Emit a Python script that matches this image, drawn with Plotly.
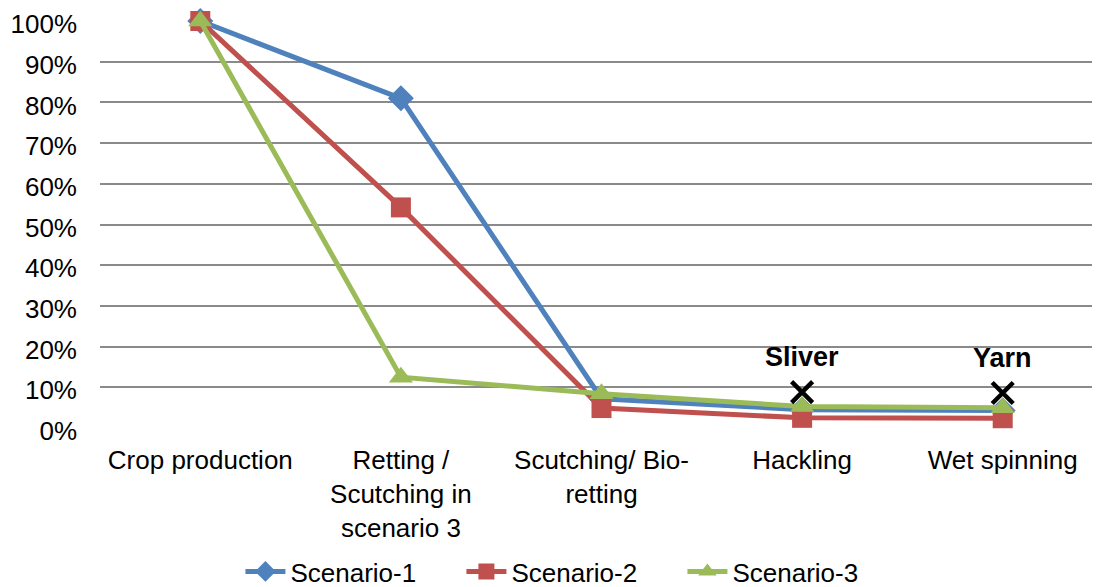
import plotly.graph_objects as go

stages = ["Crop production", "Retting /<br>Scutching in<br>scenario 3", "Scutching/ Bio-<br>retting",
          "Hackling", "Wet spinning"]
scenario_1 = [1.00, 0.81, 0.072, 0.045, 0.043]
scenario_2 = [1.00, 0.542, 0.049, 0.025, 0.024]
scenario_3 = [1.00, 0.125, 0.084, 0.053, 0.050]

product_stages = ["Hackling", "Wet spinning"]
product_values = [0.088, 0.086]
product_names = ["Sliver", "Yarn"]

yticks = [i / 10 for i in range(11)]

fig = go.Figure()

series = [
    ("Scenario-1", scenario_1, "#4F81BD", "diamond", 20),
    ("Scenario-2", scenario_2, "#C0504D", "square", 20),
    ("Scenario-3", scenario_3, "#9BBB59", "triangle-up", 21),
]
for name, vals, col, sym, sz in series:
    fig.add_trace(go.Scatter(
        x=stages, y=vals, name=name, mode="lines+markers",
        line=dict(color=col, width=5),
        marker=dict(symbol=sym, size=sz, color=col),
        cliponaxis=False,
    ))

# the two end products, black crosses with bold labels
fig.add_trace(go.Scatter(
    x=product_stages, y=product_values, mode="markers",
    marker=dict(symbol="x-thin", size=21, line=dict(color="black", width=4.5)),
    showlegend=False, cliponaxis=False,
))
for st, v, nm in zip(product_stages, product_values, product_names):
    fig.add_annotation(x=st, y=v, text="<b>" + nm + "</b>", showarrow=False, yshift=35,
                       font=dict(family="Liberation Sans", size=27, color="black"))

# page has an 8px body margin, so the figure is laid out 8px up/left
fig.update_layout(
    width=1100, height=587,
    margin=dict(l=92, r=5, t=13, b=167),
    plot_bgcolor="white", paper_bgcolor="white",
    font=dict(family="Liberation Sans", size=26, color="black"),
    legend=dict(orientation="h", x=0.14, xanchor="left", yref="container", y=0.04,
                yanchor="middle", font=dict(size=26), itemwidth=40, entrywidth=166,
                tracegroupgap=0),
    showlegend=True,
)
fig.update_xaxes(type="category", range=[-0.5, 4.5], showgrid=False, showline=False,
                 ticks="", tickfont=dict(size=26), automargin=False, ticklabelstandoff=14)
fig.update_yaxes(range=[0, 1], tickvals=yticks, tickformat=".0%", showgrid=True,
                 gridcolor="#8a8a8a", gridwidth=1.5, zeroline=False, showline=False,
                 ticks="", ticklabelstandoff=22, automargin=False, ticklabeloverflow="allow",
                 ticklabelshift=3)

fig.write_html("out.html")
